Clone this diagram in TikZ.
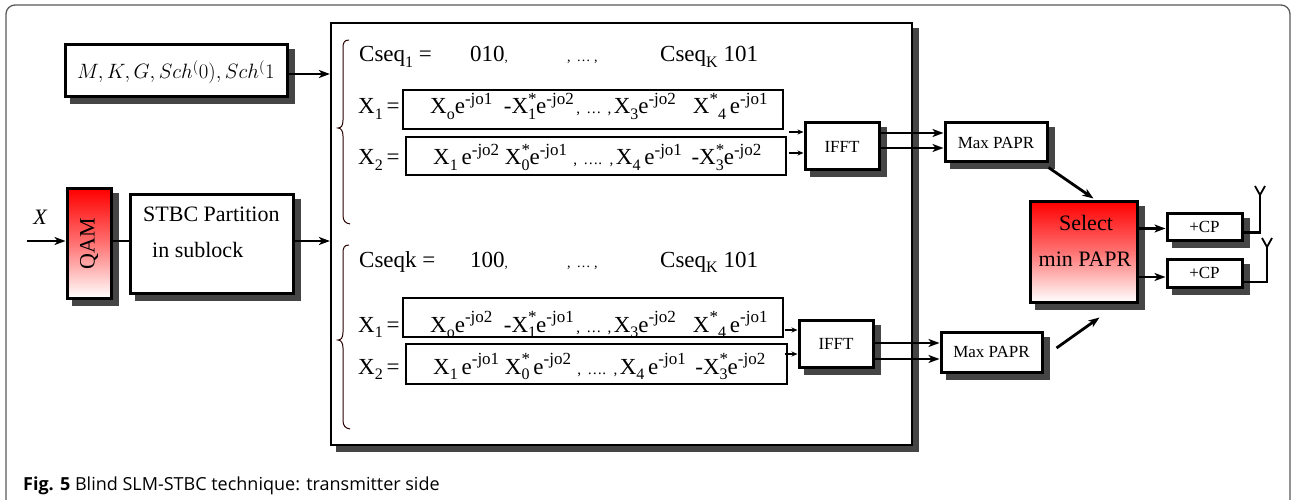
\documentclass[tikz,border=0pt]{standalone}
\usepackage{fontspec}
\usepackage{graphicx}
\setmainfont{Liberation Serif}
\newfontfamily\capfont{Open Sans}
\usetikzlibrary{arrows.meta,calc,backgrounds}
\newcommand\myfs[1]{\fontsize{#1}{#1}\selectfont}
\newcommand\myup[1]{\raisebox{0.42em}{\myfs{17}#1}}
\newcommand\mydn[1]{\raisebox{-0.22em}{\myfs{16}#1}}
\newcommand\mysupsub[2]{\rlap{\myup{#1}}\mydn{#2}}
\newcommand\mysep{{\myfs{15}\,, \,\dots\, ,\,}}
\newcommand\mysepb{{\myfs{15}\ \,, \,\dots.\, ,\,}}
\newcommand\shadowof[1]{\fill[shadowc] ($(#1.north west)+(6,6)$) rectangle ($(#1.south east)+(6,6)$);}
\definecolor{shadowc}{gray}{0.27}
\begin{document}
\begin{tikzpicture}[x=1pt,y=-1pt,
  blk/.style={draw, line width=3pt, inner sep=0pt},
  rowbox/.style={draw, line width=1.4pt, inner sep=0pt},
  rowtxt/.style={inner sep=0pt, anchor=base west, font=\myfs{23}},
  lbl/.style={inner sep=0pt, anchor=base},
  arr/.style={line width=2.8pt, -{Stealth[length=11pt,width=8pt,inset=3pt]}},
  sarr/.style={line width=2pt, -{Stealth[length=6pt,width=5pt,inset=2pt]}},
  brace/.style={draw=black!60!red!40!black, line width=1pt},
  redfill/.style={path picture={\shade[top color=red, bottom color=white, middle color=red!55] (path picture bounding box.south west) rectangle (path picture bounding box.north east);}}
]
\useasboundingbox (0,0) rectangle (1294,500);
% outer frame
\draw[black!65, line width=1.3pt, rounded corners=9pt] (6,502) -- (6,5) -- (1290,5) -- (1290,502);

% big box
\node[draw, line width=2.2pt, inner sep=0pt, minimum width=581pt, minimum height=422pt] (big) at (621.5,234) {};

% braces
\draw[brace] (349,40) .. controls (344,40) and (343,43) .. (343,48) -- (343,120) .. controls (343,126) and (341,128) .. (338,128) .. controls (341,128) and (343,131) .. (343,136) -- (343,215) .. controls (343,221) and (345,223) .. (350,224);
\draw[brace] (349,245) .. controls (344,245) and (343,248) .. (343,253) -- (343,332) .. controls (343,338) and (341,340) .. (338,340) .. controls (341,340) and (343,343) .. (343,348) -- (343,420) .. controls (343,426) and (345,428) .. (350,429);

% group 1
\node[rowtxt] (c1a) at (359,62) {Cseq\mydn{1} =};
\node[rowtxt] (c1b) at (470,62) {010{\myfs{13},}};
\node[rowtxt] (c1c) at (567,62) {\myfs{14}, \,\dots\ ,};
\node[rowtxt] (c1d) at (660,62) {Cseq\mydn{K} 101};
\node[rowtxt] (x1a) at (358,114) {X\mydn{1}\,=};
\node[rowtxt] (x1b) at (358,165) {X\mydn{2}\,=};
\node[rowbox, minimum width=380pt, minimum height=39pt] (r1a) at (593,109.5) {};
\node[rowbox, minimum width=380pt, minimum height=38pt] (r1b) at (596,156) {};
\node[rowtxt] (t1a) at (430,114) {X\mydn{o}e\myup{-jo1}\ \ -X\mysupsub{*}{1}e\myup{-jo2}\mysep X\mydn{3}e\myup{-jo2}\hspace{17pt}X\myup{*}\mydn{4}\,e\myup{-jo1}};
\node[rowtxt] (t1b) at (433,165) {X\mydn{1}\,e\myup{-jo2} X\mysupsub{*}{0}e\myup{-jo1}\mysepb X\mydn{4}\,e\myup{-jo1}\ \,-X\mysupsub{*}{3}e\myup{-jo2}};

% group 2
\node[rowtxt] (c2a) at (359,267) {Cseqk =};
\node[rowtxt] (c2b) at (470,267) {100{\myfs{13},}};
\node[rowtxt] (c2c) at (567,267) {\myfs{14}, \,\dots\ ,};
\node[rowtxt] (c2d) at (660,267) {Cseq\mydn{K} 101};
\node[rowtxt] (x2a) at (358,332) {X\mydn{1}\,=};
\node[rowtxt] (x2b) at (358,374) {X\mydn{2}\,=};
\node[rowbox, minimum width=380pt, minimum height=39pt] (r2a) at (593,317.5) {};
\node[rowbox, minimum width=381pt, minimum height=40pt] (r2b) at (596.5,364) {};
\node[rowtxt] (t2a) at (430,332) {X\mydn{o}e\myup{-jo2}\ \ -X\mysupsub{*}{1}e\myup{-jo1}\mysep X\mydn{3}e\myup{-jo2}\hspace{17pt}X\myup{*}\mydn{4}\,e\myup{-jo1}};
\node[rowtxt] (t2b) at (433,374) {X\mydn{1}\,e\myup{-jo1} X\mysupsub{*}{0}\,e\myup{-jo2}\mysepb X\mydn{4}\,e\myup{-jo1}\ \,-X\mysupsub{*}{3}e\myup{-jo2}};

% left blocks
\node[blk, minimum width=222pt, minimum height=52pt] (param) at (176,71) {};
\node[inner sep=0pt, anchor=west, font=\myfs{21}] (paramt) at (77,72) {$M,K,G,Sch^{(}0),Sch^{(}1$};
\node[blk, redfill, minimum width=44pt, minimum height=109pt, font=\myfs{22}] (qam) at (89,243.5) {\rotatebox{90}{QAM}};
\node[blk, minimum width=163pt, minimum height=98pt] (stbc) at (211.5,244) {};
\node[inner sep=0pt, anchor=base west, font=\myfs{22}] (stbc1) at (143,222) {STBC Partition};
\node[inner sep=0pt, anchor=base west, font=\myfs{22}] (stbc2) at (152,257) {in sublock};
\coordinate (xin) at (27,241);
\node[font=\myfs{22}\itshape, inner sep=0pt] (xlab) at (40,217) {X};

% right blocks
\node[blk, minimum width=74pt, minimum height=47pt, font=\myfs{17}] (ifft1) at (842,146.5) {IFFT};
\node[blk, minimum width=74pt, minimum height=47pt, font=\myfs{17}] (ifft2) at (836,343.5) {IFFT};
\node[blk, minimum width=102pt, minimum height=39pt, font=\myfs{17}] (maxp1) at (996,142.5) {Max PAPR};
\node[blk, minimum width=101pt, minimum height=40pt, font=\myfs{17}] (maxp2) at (991.5,352) {Max PAPR};
\node[blk, redfill, minimum width=107pt, minimum height=100pt] (select) at (1083.5,252) {};
\node[lbl, font=\myfs{22}] (sel1) at (1086,230) {Select};
\node[lbl, font=\myfs{22}] (sel2) at (1085,266) {min PAPR};
\node[blk, minimum width=75pt, minimum height=27pt, font=\myfs{17}] (cp1) at (1204.5,226.5) {+CP};
\node[blk, minimum width=75pt, minimum height=28pt, font=\myfs{17}] (cp2) at (1204.5,273) {+CP};

% shadows and white fills, behind everything
\begin{scope}[on background layer]
  \shadowof{big}
  \fill[white] (big.north west) rectangle (big.south east);
  \shadowof{param} \shadowof{qam} \shadowof{stbc}
  \shadowof{ifft1} \shadowof{ifft2} \shadowof{maxp1} \shadowof{maxp2}
  \shadowof{select} \shadowof{cp1} \shadowof{cp2}
  \foreach \n in {param,stbc,ifft1,ifft2,maxp1,maxp2,cp1,cp2,r1a,r1b,r2a,r2b}
    {\fill[white] (\n.north west) rectangle (\n.south east);}
\end{scope}

% connectors left
\draw[arr, line width=2.4pt] ([yshift=-3pt]param.east) -- ([yshift=-3pt]param.east -| big.west);
\draw[arr] (xin) -- (xin -| qam.west);
\draw[line width=2.8pt] (qam.east |- xin) -- (xin -| stbc.west);
\draw[arr] (stbc.east |- xin) -- (xin -| big.west);

% into IFFTs
\coordinate (i1a) at ($(ifft1.west)+(-15,-14.5)$);
\coordinate (i1b) at ($(ifft1.west)+(-15,6.5)$);
\coordinate (i2a) at ($(ifft2.west)+(-13,-13.5)$);
\coordinate (i2b) at ($(ifft2.west)+(-13,10.5)$);
\draw[sarr] (i1a) -- (i1a -| ifft1.west);
\draw[sarr] (i1b) -- (i1b -| ifft1.west);
\draw[sarr] (i2a) -- (i2a -| ifft2.west);
\draw[sarr] (i2b) -- (i2b -| ifft2.west);

% IFFT -> Max PAPR
\coordinate (o1a) at ($(ifft1.east)+(0,-13.5)$);
\coordinate (o1b) at ($(ifft1.east)+(0,1.5)$);
\coordinate (o2a) at ($(ifft2.east)+(0,-0.5)$);
\coordinate (o2b) at ($(ifft2.east)+(0,15.5)$);
\draw[arr] (o1a) -- (o1a -| maxp1.west);
\draw[arr] (o1b) -- (o1b -| maxp1.west);
\draw[arr] (o2a) -- (o2a -| maxp2.west);
\draw[arr] (o2b) -- (o2b -| maxp2.west);

% Max PAPR -> Select
\draw[arr] ($(maxp1.south east)+(0,4)$) -- ($(select.north)+(10,-2)$);
\draw[arr] ($(maxp2.east)+(13,-4)$) -- ($(select.south)+(16,14)$);

% Select -> CP
\coordinate (s1) at ($(cp1.west)+(0,2)$);
\coordinate (s2) at ($(cp2.west)+(0,4)$);
\draw[arr] (s1 -| select.east) -- (s1);
\draw[arr] (s2 -| select.east) -- (s2);

% antennas
\coordinate (ant1) at (1260,195);
\coordinate (ant2) at (1267,247);
\coordinate (a1) at ($(cp1.east)+(0,6)$);
\coordinate (a2) at ($(cp2.east)+(0,9)$);
\draw[line width=2.2pt] (a1) -- (a1 -| ant1) -- (ant1);
\draw[line width=1.8pt] ($(ant1)+(-5,-9)$) -- (ant1) -- ($(ant1)+(5,-9)$);
\draw[line width=2.2pt] (a2) -- (a2 -| ant2) -- (ant2);
\draw[line width=1.8pt] ($(ant2)+(-5,-9)$) -- (ant2) -- ($(ant2)+(5,-9)$);

% caption
\node[anchor=base west, inner sep=0pt, font=\capfont\myfs{18}] (cap) at (23,490) {\textbf{Fig. 5} Blind SLM-STBC technique: transmitter side};
\end{tikzpicture}
\end{document}
